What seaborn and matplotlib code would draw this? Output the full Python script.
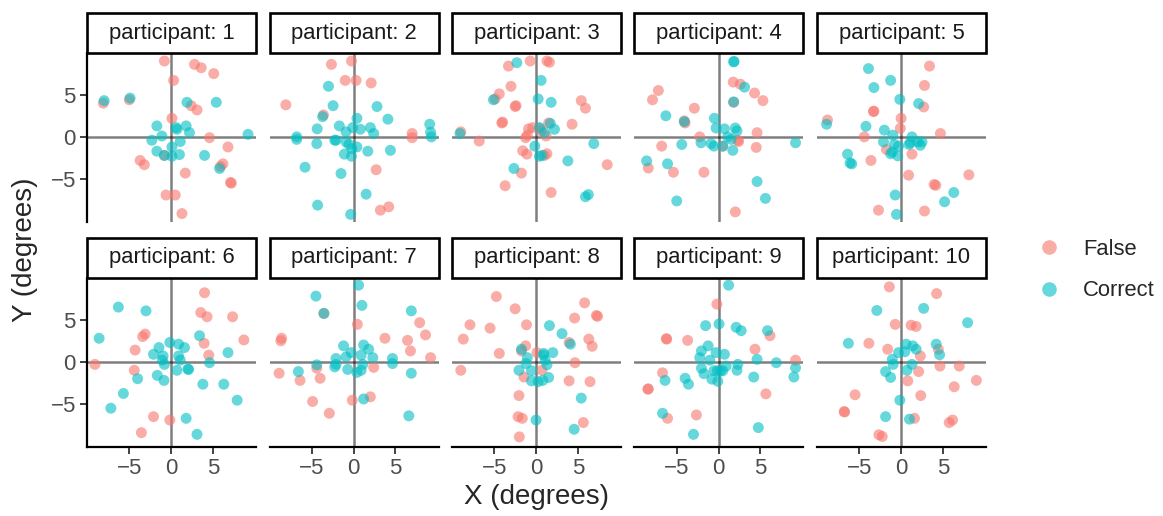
import matplotlib
matplotlib.use("Agg")
import matplotlib.pyplot as plt
from matplotlib.lines import Line2D
from matplotlib.patches import Rectangle
import pandas as pd
import seaborn as sns

# gaze positions (degrees) per participant, split by response outcome
p1_false = [(-0.8, 9.0), (2.8, 8.6), (3.6, 8.2), (5.1, 7.5), (0.3, 6.7), (-8.1, 4.0), (-5.0, 4.4),
            (2.4, 3.7), (3.1, 3.2), (0.1, 2.2), (4.6, -0.1), (6.8, -1.2), (-3.7, -2.8), (-3.2, -3.3),
            (6.2, -3.2), (5.9, -3.5), (7.2, -5.5), (7.1, -5.4), (1.7, -4.3), (-0.6, -6.9), (0.5, -6.9),
            (1.3, -9.1), (-0.8, -2.2)]
p1_correct = [(-8.0, 4.3), (-4.9, 4.6), (5.4, 4.1), (1.9, 4.1), (-1.7, 1.3), (0.7, 0.9), (1.8, 1.3),
              (2.2, 0.5), (-1.1, 0.1), (-2.3, -0.4), (1.1, -0.55), (0.1, -1.2), (-1.7, -1.7), (-0.8, -2.2),
              (0.1, -2.3), (1.0, -2.1), (4.0, -2.2), (9.2, 0.3), (5.8, -3.75), (0.6, 1.1)]

p2_false = [(-2.65, 8.6), (-0.25, 9.0), (-1.0, 6.7), (0.3, 6.7), (2.1, 6.4), (-8.1, 3.8), (-3.6, 2.6),
            (7.0, 0.4), (7.0, -0.1), (2.7, -3.9), (3.2, -8.7), (4.2, -8.3)]
p2_correct = [(-3.0, 6.0), (-2.45, 3.7), (2.8, 3.6), (4.1, 2.1), (-3.7, 2.4), (0.4, 2.2), (-4.35, 0.95),
              (-1.7, 1.3), (-0.1, 1.1), (0.8, 0.9), (2.0, 1.1), (2.4, 0.4), (-0.9, 0.6), (-6.8, 0.0),
              (-6.8, -0.3), (-2.25, -0.4), (-2.1, -0.4), (-4.4, -0.8), (-0.9, -0.6), (-0.55, -0.9),
              (0.4, -1.2), (-0.2, -1.4), (-1.1, -2.05), (-0.25, -2.3), (1.7, -1.7), (4.4, -1.6),
              (9.1, 1.5), (9.2, 0.55), (9.3, 0.0), (-5.8, -3.6), (-1.5, -4.35), (1.5, -6.8),
              (-4.3, -8.1), (-0.35, -9.2)]

p3_false = [(-3.3, 8.4), (-0.7, 9.0), (1.3, 9.0), (1.6, 8.85), (-3.0, 6.0), (-4.4, 5.1), (-4.9, 4.5),
            (-2.4, 3.7), (-2.5, 3.6), (5.4, 4.3), (5.9, 3.4), (-4.1, 1.65), (-4.0, 1.75), (1.5, 1.65),
            (4.3, 1.5), (-9.0, 0.6), (-6.8, -0.5), (-0.4, 1.1), (-0.9, 0.95), (0.45, 1.0), (0.6, 0.7),
            (-1.05, 0.2), (-1.25, -0.1), (1.2, 0.1), (-1.6, -1.65), (-1.1, -2.05), (1.3, -2.0),
            (1.0, -2.2), (8.5, -3.3), (-1.75, -4.3), (-3.7, -5.8), (1.8, -6.6)]
p3_correct = [(-2.3, 8.8), (0.6, 6.7), (0.25, 4.5), (1.8, 4.1), (-5.1, 4.4), (1.7, 1.6), (2.2, 0.9),
              (0.4, 1.1), (1.0, 0.5), (-9.1, 0.4), (6.9, -0.8), (-0.15, -1.1), (0.4, -2.3), (0.7, -2.2),
              (3.8, -2.85), (-2.65, -3.75), (6.25, -6.85), (5.9, -7.1)]

p4_false = [(-7.2, 5.5), (-7.9, 4.4), (-2.9, 3.4), (-4.1, 1.9), (-4.0, 1.65), (1.75, 6.5), (2.6, 6.25),
            (4.3, 5.2), (5.3, 4.3), (1.8, 4.1), (4.6, 0.5), (-2.25, 0.0), (-6.8, -1.1), (4.5, -1.25),
            (2.3, -0.4), (2.4, -0.55), (0.5, -1.1), (-8.4, -3.7), (-5.4, -4.2), (-1.75, -4.2), (2.0, -8.9)]
p4_correct = [(1.8, 8.9), (1.85, 8.95), (3.1, 5.9), (1.8, 4.15), (-6.3, 2.5), (-4.1, 1.8), (-0.5, 2.2),
              (-0.3, 1.05), (0.7, 0.95), (2.0, 1.05), (2.2, 0.7), (1.1, 0.0), (1.5, -0.3), (-4.4, -0.9),
              (-2.1, -0.7), (-0.9, -0.8), (-0.55, -1.1), (1.7, -1.6), (0.5, -1.1), (9.2, -0.7),
              (-8.6, -2.85), (-6.1, -3.2), (4.6, -5.3), (5.6, -7.3), (-5.0, -7.6)]

p5_false = [(3.4, 8.4), (2.8, 6.1), (2.7, 3.55), (-3.3, 3.0), (-3.25, 3.05), (-8.8, 2.0), (0.0, 2.2),
            (-0.1, 1.0), (-4.4, 0.0), (4.7, 0.4), (-1.75, -1.5), (1.3, -2.05), (-3.6, -2.8),
            (0.9, -4.55), (3.95, -5.65), (4.15, -5.75), (8.1, -4.5), (-2.7, -8.7), (2.8, -8.8)]
p5_correct = [(-3.9, 8.1), (-1.25, 6.7), (-3.25, 5.85), (-0.15, 4.45), (2.1, 3.95), (-8.9, 1.5),
              (-4.2, 1.25), (-2.0, 0.8), (-1.0, 0.2), (-2.1, -0.6), (-0.8, -0.9), (-0.3, -1.1),
              (-1.05, -1.8), (-1.25, -2.0), (-0.4, -2.25), (1.3, 0.0), (1.1, -0.7), (0.95, -0.9),
              (2.0, -0.6), (2.3, -1.0), (2.5, -0.6), (-6.4, -2.05), (-6.1, -3.1), (-5.9, -3.2),
              (-0.7, -6.9), (6.3, -6.6), (5.2, -7.7), (-0.55, -9.2)]

p6_false = [(4.0, 8.2), (3.55, 5.85), (4.3, 5.35), (7.35, 5.35), (8.7, 2.6), (-3.1, 3.3), (-3.4, 3.0),
            (-4.3, 1.4), (3.95, 2.2), (4.5, 0.8), (-9.1, -0.3), (-4.4, -1.0), (-2.1, -6.5),
            (-0.15, -6.9), (-3.55, -8.4)]
p6_correct = [(-6.3, 6.5), (-3.0, 6.05), (-8.6, 2.8), (3.4, 3.1), (6.8, 1.1), (-0.15, 2.3), (-1.45, 1.7),
              (0.9, 2.1), (1.6, 1.7), (-2.1, 0.9), (-0.95, 0.7), (-1.05, 0.2), (-0.8, -0.3), (0.9, 0.7),
              (1.1, 0.2), (0.7, -1.0), (2.1, -0.9), (2.0, -0.85), (-1.65, -1.6), (-0.85, -2.2),
              (-4.0, -2.0), (4.6, -0.1), (3.8, -2.65), (6.3, -2.65), (7.9, -4.55), (-5.7, -3.75),
              (-7.2, -5.5), (1.8, -6.7), (3.1, -8.6)]

p7_false = [(-3.55, 5.75), (0.45, 4.45), (-8.6, 2.8), (-8.7, 2.5), (3.75, 2.8), (6.45, 2.55), (7.9, 4.65),
            (8.6, 3.2), (6.8, 1.3), (9.2, 0.5), (-4.4, -0.75), (-8.9, -1.35), (-6.4, -2.2), (-4.0, -1.95),
            (2.4, -0.65), (2.0, -4.15), (-0.15, -4.55), (-4.9, -4.7), (-2.9, -6.1)]
p7_correct = [(0.6, 9.1), (-4.5, 7.8), (1.0, 6.7), (6.9, 6.05), (-3.55, 5.75), (-1.2, 1.9), (-0.3, 1.1),
              (1.2, 2.0), (1.8, 1.5), (2.3, 0.5), (0.9, 0.8), (-0.9, 0.6), (-2.1, 0.4), (-2.1, -0.3),
              (-2.25, -0.6), (-4.4, -0.35), (-6.6, -1.15), (-0.7, -0.9), (0.4, -1.25), (0.9, -1.0),
              (1.1, -0.3), (4.65, 0.4), (4.65, -0.2), (6.9, -1.35), (1.2, -4.4), (6.6, -6.4)]

p8_false = [(-4.75, 7.75), (-2.5, 6.3), (5.8, 7.0), (7.2, 5.5), (7.35, 5.4), (4.6, 5.2), (-7.9, 4.4),
            (-5.5, 4.0), (-1.15, 4.4), (-8.7, 2.7), (6.3, 2.7), (6.7, 1.85), (3.95, 2.3), (-1.25, 1.9),
            (-1.75, 1.3), (-4.4, 1.0), (0.1, 1.1), (4.65, -0.1), (-9.0, -1.0), (0.7, -1.0),
            (-1.45, -1.8), (3.95, -2.25), (6.45, -2.35), (-2.05, -4.0), (-2.15, -6.5), (-1.65, -6.7),
            (5.65, -7.2), (-2.0, -8.9)]
p8_correct = [(1.6, 4.3), (3.1, 3.35), (4.1, 2.1), (-1.75, 1.5), (0.9, 0.8), (2.0, 1.1), (-1.05, 0.5),
              (-1.2, -0.2), (1.1, 0.2), (1.3, -0.35), (-2.05, -1.0), (-0.55, -1.05), (1.5, -1.85),
              (0.8, -2.2), (0.25, -2.35), (-0.55, -2.25), (5.4, -4.3), (0.0, -6.9), (4.55, -8.0),
              (0.9, 1.0)]

p9_false = [(-0.2, 6.85), (-6.2, 2.7), (-6.25, 2.75), (-3.7, 2.55), (6.15, 3.1), (4.35, 1.5), (9.2, 0.2),
            (-6.7, -1.3), (-8.45, -3.25), (-8.4, -3.2), (5.65, -3.8), (-6.1, -6.7), (-2.65, -6.3)]
p9_correct = [(1.2, 9.1), (-1.55, 4.3), (0.05, 4.5), (2.1, 4.1), (2.7, 3.7), (5.85, 3.7), (-1.25, 1.9),
              (-2.05, 1.3), (-2.25, 0.5), (-1.05, 0.2), (-0.3, 1.1), (0.7, 0.9), (4.6, 0.3), (6.9, -0.1),
              (2.3, -0.3), (2.2, -1.0), (-2.05, -0.75), (-1.75, -1.4), (-0.55, -1.05), (-0.15, -1.05),
              (0.5, -1.05), (0.9, -0.5), (-0.8, -2.05), (-0.1, -2.3), (4.2, -1.8), (9.2, -0.7),
              (9.0, -1.8), (-6.4, -2.2), (-4.0, -1.95), (-3.6, -2.65), (-6.7, -6.1), (-3.0, -8.6),
              (4.75, -7.8), (0.2, -1.1)]

p10_false = [(-1.4, 8.9), (4.25, 8.1), (-0.7, 4.45), (1.2, 4.35), (1.8, 4.2), (-3.85, 2.2), (-1.6, 1.5),
             (4.45, 1.5), (2.3, 0.7), (4.65, -0.5), (6.95, -0.5), (2.1, -1.15), (0.8, -2.25),
             (6.35, -2.95), (9.0, -2.2), (-5.5, -3.9), (2.35, -4.0), (-6.8, -5.9), (-6.75, -5.95),
             (1.6, -6.7), (5.75, -7.2), (6.15, -6.9), (-2.65, -8.65), (-2.25, -8.85)]
p10_correct = [(-2.9, 6.1), (2.7, 6.35), (7.95, 4.65), (-6.3, 2.2), (0.6, 2.1), (1.4, 1.9), (1.8, 1.5),
               (-0.3, 1.1), (0.45, 1.2), (4.2, 2.1), (4.6, 0.85), (-1.05, 0.3), (-0.95, -0.3),
               (1.3, -0.3), (-1.85, -1.15), (-1.25, -1.85), (0.7, -1.0), (-0.15, -4.55),
               (-1.85, -6.5), (1.0, -6.8)]

participants = list(range(1, 11))
false_sets = [p1_false, p2_false, p3_false, p4_false, p5_false,
              p6_false, p7_false, p8_false, p9_false, p10_false]
correct_sets = [p1_correct, p2_correct, p3_correct, p4_correct, p5_correct,
                p6_correct, p7_correct, p8_correct, p9_correct, p10_correct]
outcome_order = ["False", "Correct"]
outcome_colors = ["#F8766D", "#00BFC4"]
tick_values = [-5, 0, 5]

rows = []
for pid, f_pts, c_pts in zip(participants, false_sets, correct_sets):
    for x, y in f_pts:
        rows.append({"participant": pid, "x": x, "y": y, "outcome": "False"})
    for x, y in c_pts:
        rows.append({"participant": pid, "x": x, "y": y, "outcome": "Correct"})
df = pd.DataFrame(rows)

sns.set_theme(style="ticks")
plt.rcParams["font.family"] = ["Liberation Sans", "DejaVu Sans"]

W, H = 1163, 516
g = sns.FacetGrid(df, col="participant", col_wrap=5, sharex=True, sharey=True,
                  height=2, aspect=1, despine=False)
g.map_dataframe(sns.scatterplot, x="x", y="y", hue="outcome", hue_order=outcome_order,
                palette=outcome_colors, alpha=0.6, s=62, linewidth=0, zorder=3)
fig = g.figure
fig.set_size_inches(W / 100, H / 100)
fig.set_dpi(100)

pw = 169
left = 87
gap = 13.5
fig.subplots_adjust(left=left / W, right=(left + 5 * pw + 4 * gap) / W,
                    top=1 - 53 / H, bottom=1 - 447 / H,
                    wspace=gap / pw, hspace=56 / pw)
g.set_titles("")
g.set_axis_labels("", "")

for i, (ax, pid) in enumerate(zip(g.axes.flat, participants)):
    r, c = divmod(i, 5)
    ax.set_xlim(-10.05, 10.15)
    ax.set_ylim(-10.1, 9.95)
    ax.set_xticks(tick_values)
    ax.set_yticks(tick_values)
    ax.set_xticklabels(["\u22125", "0", "5"])
    ax.set_yticklabels(["\u22125", "0", "5"])
    ax.axhline(0, color="black", alpha=0.5, lw=1.8, zorder=1)
    ax.axvline(0, color="black", alpha=0.5, lw=1.8, zorder=1)
    for side in ["top", "right"]:
        ax.spines[side].set_visible(False)
    for side in ["left", "bottom"]:
        ax.spines[side].set_linewidth(1.6)
        ax.spines[side].set_color("black")
    ax.tick_params(axis="both", labelsize=16, labelcolor="#4D4D4D", color="#333333",
                   length=5, width=1.3, pad=3)
    if c != 0:
        ax.spines["left"].set_visible(False)
        ax.tick_params(axis="y", left=False, labelleft=False)
    if r != 1:
        ax.spines["bottom"].set_visible(False)
        ax.tick_params(axis="x", bottom=False, labelbottom=False)
    strip_h = 40 / pw
    ax.add_patch(Rectangle((0, 1), 1, strip_h, transform=ax.transAxes, facecolor="white",
                           edgecolor="black", lw=1.9, clip_on=False, zorder=5))
    ax.text(0.5, 1 + strip_h / 2, f"participant: {pid}", transform=ax.transAxes,
            ha="center", va="center", fontsize=15.8, color="#1A1A1A", zorder=6)
    leg = ax.get_legend()
    if leg is not None:
        leg.remove()

fig.text((left + (5 * pw + 4 * gap) / 2) / W, 1 - 497 / H, "X (degrees)",
         ha="center", va="center", fontsize=20)
fig.text(25 / W, 1 - 250 / H, "Y (degrees)", ha="center", va="center",
         rotation=90, fontsize=20)

handles = [Line2D([0], [0], marker="o", linestyle="", markersize=10.5,
                  markerfacecolor=col, markeredgewidth=0, alpha=0.6)
           for col in outcome_colors]
fig.legend(handles, outcome_order, loc="center left",
           bbox_to_anchor=(1038 / W, 1 - 270 / H), frameon=False, fontsize=15.8,
           handlelength=1.0, handletextpad=1.05, labelspacing=0.95, borderpad=0,
           borderaxespad=0)

fig.savefig("out.png", dpi=100)
